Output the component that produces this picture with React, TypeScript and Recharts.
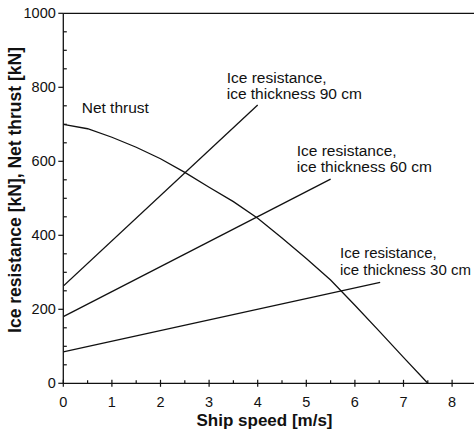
import { LineChart, Line, XAxis, YAxis, ReferenceLine } from "recharts";

const speeds = [0, 0.5, 1, 1.5, 2, 2.5, 3, 3.5, 4, 4.5, 5, 5.5, 6, 6.5, 7, 7.5];
const netThrust = [700, 688, 665, 638, 607, 570, 530, 491, 446, 393, 337, 279, 211, 141, 70, 0];

const ice90Speeds = [0, 4.0];
const ice90 = [263, 752];
const ice60Speeds = [0, 5.5];
const ice60 = [180, 552];
const ice30Speeds = [0, 6.52];
const ice30 = [85, 273];

const xTicks = [0, 0.5, 1, 1.5, 2, 2.5, 3, 3.5, 4, 4.5, 5, 5.5, 6, 6.5, 7, 7.5, 8];
const yTicks = [
  0, 50, 100, 150, 200, 250, 300, 350, 400, 450, 500, 550, 600, 650, 700, 750, 800,
  850, 900, 950, 1000,
];

const FONT = '"Liberation Sans", Arial, Helvetica, sans-serif';
const INK = "#111";

const toRows = (xs: number[], ys: number[]) => xs.map((x, i) => ({ x, y: ys[i] }));

function XTick({ x, y, payload }: any) {
  const v = payload.value as number;
  if (!Number.isInteger(v)) {
    return <line x1={x} x2={x} y1={y} y2={y - 3} stroke={INK} strokeWidth={1.2} />;
  }
  return (
    <g>
      <line x1={x} x2={x} y1={y - 3.5} y2={y + 3.5} stroke={INK} strokeWidth={1.2} />
      <text x={x} y={y + 23.4} textAnchor="middle" fontSize={14.5} fontFamily={FONT} fill={INK}>
        {v}
      </text>
    </g>
  );
}

function YTick({ x, y, payload }: any) {
  const v = payload.value as number;
  if (v % 200 !== 0) {
    return <line x1={x} x2={x + 3.5} y1={y} y2={y} stroke={INK} strokeWidth={1.2} />;
  }
  return (
    <g>
      <line x1={x - 5} x2={x} y1={y} y2={y} stroke={INK} strokeWidth={1.2} />
      <text x={x - 7.5} y={y + 5} textAnchor="end" fontSize={14.5} fontFamily={FONT} fill={INK}>
        {v}
      </text>
    </g>
  );
}

const note = { fontSize: 15.5, fontFamily: FONT, fill: INK };
const noteSmall = { fontSize: 15, fontFamily: FONT, fill: INK };

export default function App() {
  return (
    <div style={{ width: 474, height: 431, overflow: "hidden" }}>
      <style>{`body { margin: 0; }`}</style>
      <LineChart
        width={488}
        height={431}
        margin={{ top: 13.3, right: 11.6, bottom: 17.7, left: 0 }}
      >
        <XAxis
          type="number"
          dataKey="x"
          domain={[0, 8.5]}
          ticks={xTicks}
          interval={0}
          height={30}
          tickSize={0}
          tickMargin={0}
          tick={<XTick />}
          axisLine={{ stroke: INK, strokeWidth: 1.3 }}
          allowDataOverflow
        />
        <YAxis
          type="number"
          domain={[0, 1000]}
          ticks={yTicks}
          interval={0}
          width={63.3}
          tickSize={0}
          tickMargin={0}
          tick={<YTick />}
          axisLine={{ stroke: INK, strokeWidth: 1.3 }}
        />
        <ReferenceLine y={1000} stroke={INK} strokeWidth={1.3} />
        <Line
          data={toRows(speeds, netThrust)}
          dataKey="y"
          type="linear"
          stroke={INK}
          strokeWidth={1.3}
          dot={false}
          isAnimationActive={false}
        />
        <Line
          data={toRows(ice90Speeds, ice90)}
          dataKey="y"
          type="linear"
          stroke={INK}
          strokeWidth={1.3}
          dot={false}
          isAnimationActive={false}
        />
        <Line
          data={toRows(ice60Speeds, ice60)}
          dataKey="y"
          type="linear"
          stroke={INK}
          strokeWidth={1.3}
          dot={false}
          isAnimationActive={false}
        />
        <Line
          data={toRows(ice30Speeds, ice30)}
          dataKey="y"
          type="linear"
          stroke={INK}
          strokeWidth={1.3}
          dot={false}
          isAnimationActive={false}
        />
        <text x={81.7} y={113.3} {...note}>Net thrust</text>
        <text x={226.7} y={83.3} {...note}>Ice resistance,</text>
        <text x={226.7} y={99.3} {...note}>ice thickness 90 cm</text>
        <text x={296.7} y={156} {...note}>Ice resistance,</text>
        <text x={296.7} y={171.7} {...note}>ice thickness 60 cm</text>
        <text x={340} y={258.3} {...noteSmall}>Ice resistance,</text>
        <text x={340} y={275} {...noteSmall}>ice thickness 30 cm</text>
        <text
          x={264.5}
          y={425.5}
          textAnchor="middle"
          fontSize={17}
          fontWeight="bold"
          fontFamily={FONT}
          fill={INK}
        >
          Ship speed [m/s]
        </text>
        <text
          transform="translate(20.5 190) rotate(-90)"
          textAnchor="middle"
          fontSize={17.5}
          fontWeight="bold"
          fontFamily={FONT}
          fill={INK}
        >
          Ice resistance [kN], Net thrust [kN]
        </text>
      </LineChart>
    </div>
  );
}
